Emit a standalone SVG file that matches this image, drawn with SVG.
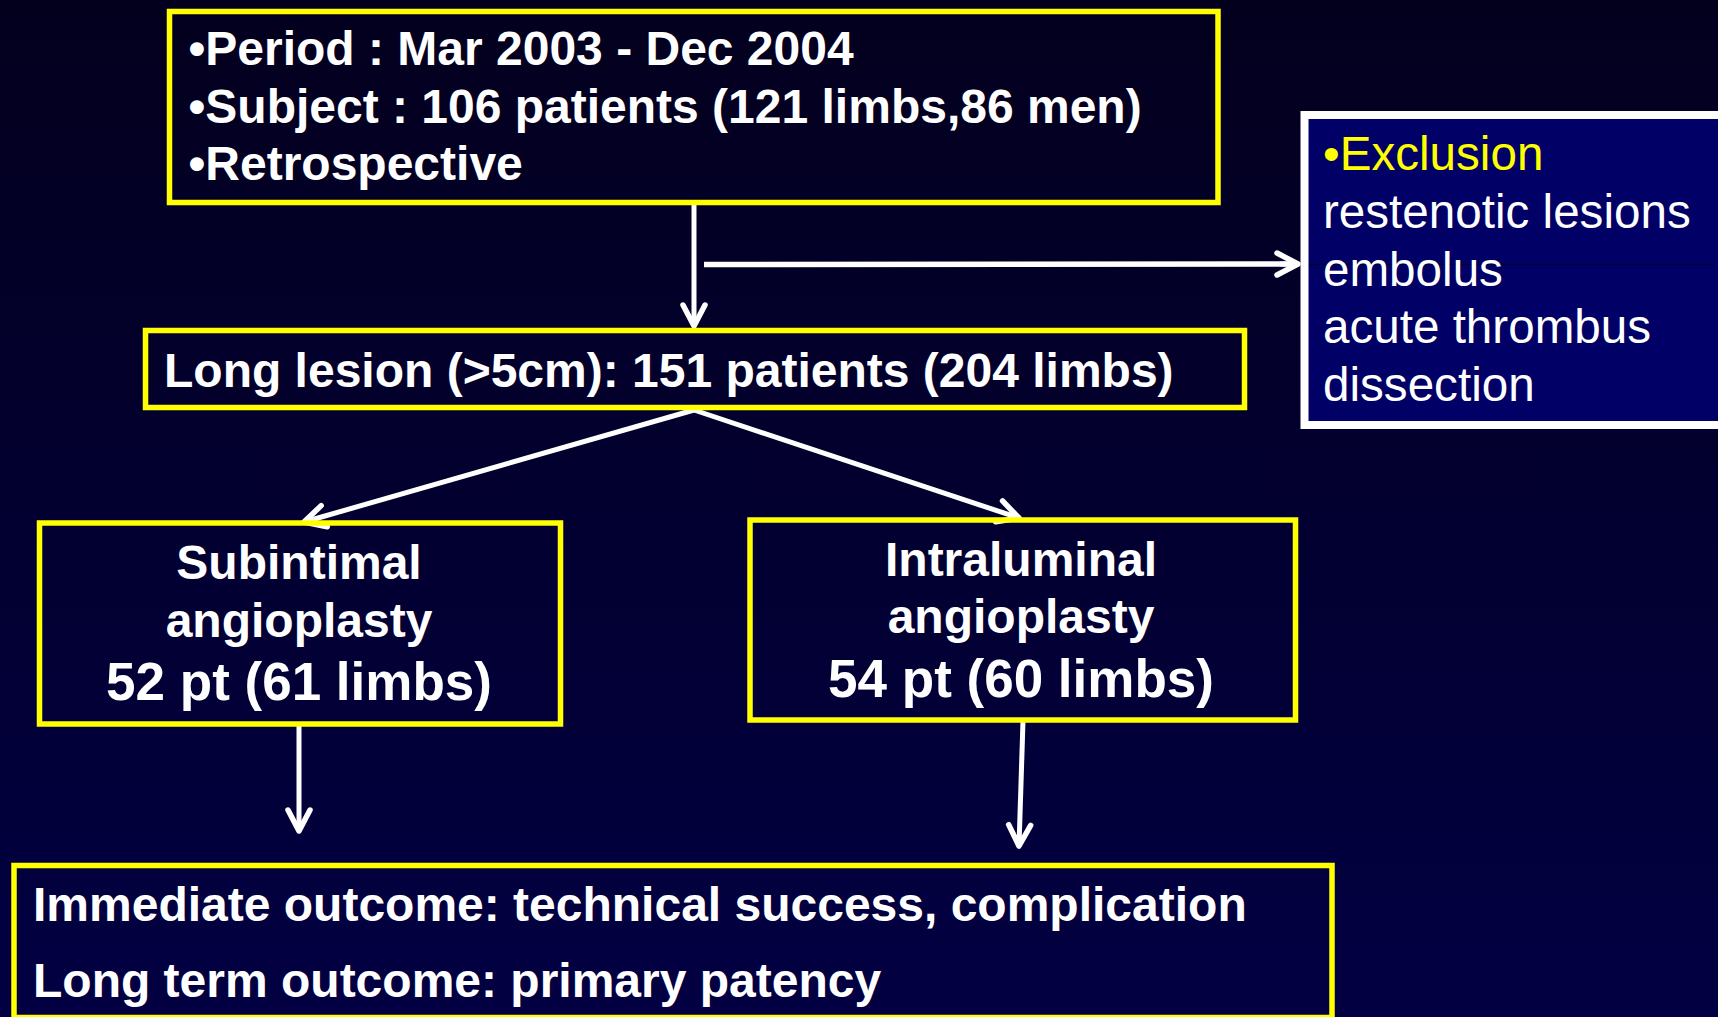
<svg xmlns="http://www.w3.org/2000/svg" width="1718" height="1017" viewBox="0 0 1718 1017">
<defs>
<linearGradient id="bg" x1="0" y1="0" x2="0" y2="1">
<stop offset="0" stop-color="#03001e"/>
<stop offset="1" stop-color="#020042"/>
</linearGradient>
<marker id="chev" markerUnits="userSpaceOnUse" markerWidth="40" markerHeight="40" viewBox="-30 -20 40 40" refX="0" refY="0" orient="auto" overflow="visible">
<path d="M-21,-11 L0,0 L-21,11" fill="none" stroke="#fff" stroke-width="5.5" stroke-linecap="round" stroke-linejoin="round"/>
</marker>
<style>
.box{fill:none;stroke:#ffff00;stroke-width:5.5}
.ex{fill:#000066;stroke:#ffffff;stroke-width:8}
.t{font-family:"Liberation Sans",Arial,sans-serif;font-weight:bold;font-size:48px;fill:#ffffff}
.r{font-family:"Liberation Sans",Arial,sans-serif;font-size:47.6px;fill:#ffffff}
.y{fill:#ffff00}
.c{text-anchor:middle}
.big{font-size:53px}
.con{stroke:#ffffff;stroke-width:5;fill:none;marker-end:url(#chev)}
</style>
</defs>
<rect x="0" y="0" width="1718" height="1017" fill="url(#bg)"/>

<g id="connectors">
<line class="con" x1="694" y1="204" x2="694" y2="326"/>
<line x1="704" y1="264.5" x2="1290" y2="264" stroke="#fff" stroke-width="5.5"/>
<line class="con" x1="1280" y1="264" x2="1298" y2="264"/>
<line class="con" x1="694" y1="410" x2="304" y2="522"/>
<line class="con" x1="694" y1="410" x2="1019" y2="518"/>
<line class="con" x1="299" y1="726" x2="299" y2="831"/>
<line class="con" x1="1023" y1="721" x2="1019" y2="846"/>
</g>

<g id="node-period">
<rect class="box" x="169.5" y="11.5" width="1048.5" height="191"/>
<text class="t" x="188.5" y="65">•Period : Mar 2003 - Dec 2004</text>
<text class="t" x="188.5" y="123">•Subject : 106 patients (121 limbs,86 men)</text>
<text class="t" x="188.5" y="180">•Retrospective</text>
</g>

<g id="node-exclusion">
<rect class="ex" x="1304.5" y="115" width="420" height="310"/>
<line x1="1309" y1="264.3" x2="1714" y2="264.3" stroke="#000000" stroke-opacity="0.7" stroke-width="1"/>
<text class="r y" x="1323" y="170">•Exclusion</text>
<text class="r" x="1323" y="228">restenotic lesions</text>
<text class="r" x="1323" y="286">embolus</text>
<text class="r" x="1323" y="343">acute thrombus</text>
<text class="r" x="1323" y="401">dissection</text>
</g>

<g id="node-long-lesion">
<rect class="box" x="145.5" y="330.5" width="1099" height="77"/>
<text class="t" x="164" y="387">Long lesion (&gt;5cm): 151 patients (204 limbs)</text>
</g>

<g id="node-subintimal">
<rect class="box" x="39.5" y="523" width="521" height="201"/>
<text class="t c" x="299" y="579">Subintimal</text>
<text class="t c" x="299" y="637">angioplasty</text>
<text class="t c big" x="299" y="700">52 pt (61 limbs)</text>
</g>

<g id="node-intraluminal">
<rect class="box" x="750" y="520" width="545.5" height="200"/>
<text class="t c" x="1021" y="576">Intraluminal</text>
<text class="t c" x="1021" y="633">angioplasty</text>
<text class="t c big" x="1021" y="697">54 pt (60 limbs)</text>
</g>

<g id="node-outcome">
<rect class="box" x="14" y="865.5" width="1318" height="152"/>
<text class="t" x="33" y="921">Immediate outcome: technical success, complication</text>
<text class="t" x="33" y="997">Long term outcome: primary patency</text>
</g>
</svg>
